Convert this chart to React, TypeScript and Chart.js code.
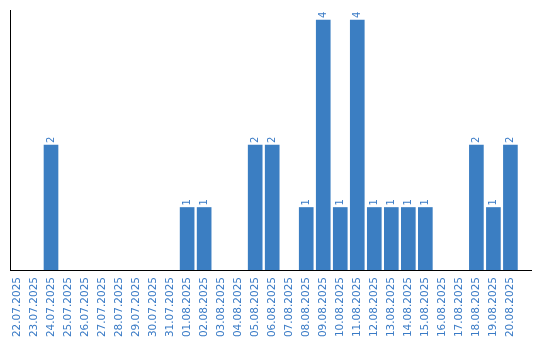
import React, { useEffect, useRef } from "react";
import { Chart, registerables } from "chart.js";

Chart.register(...registerables);

const dates = [
  "22.07.2025", "23.07.2025", "24.07.2025", "25.07.2025", "26.07.2025",
  "27.07.2025", "28.07.2025", "29.07.2025", "30.07.2025", "31.07.2025",
  "01.08.2025", "02.08.2025", "03.08.2025", "04.08.2025", "05.08.2025",
  "06.08.2025", "07.08.2025", "08.08.2025", "09.08.2025", "10.08.2025",
  "11.08.2025", "12.08.2025", "13.08.2025", "14.08.2025", "15.08.2025",
  "16.08.2025", "17.08.2025", "18.08.2025", "19.08.2025", "20.08.2025",
];
const counts = [
  0, 0, 2, 0, 0, 0, 0, 0, 0, 0,
  1, 1, 0, 0, 2, 2, 0, 1, 4, 1,
  4, 1, 1, 1, 1, 0, 0, 2, 1, 2,
];

const BAR = "#3b7ec2";
const TEXT = "#3a7bc6";
const FONT = "DejaVu Sans";

const valueLabels = {
  id: "valueLabels",
  afterDatasetsDraw(chart: any) {
    const ctx = chart.ctx;
    const meta = chart.getDatasetMeta(0);
    ctx.save();
    ctx.fillStyle = TEXT;
    ctx.font = `10px "${FONT}"`;
    ctx.textAlign = "left";
    ctx.textBaseline = "middle";
    meta.data.forEach((el: any, i: number) => {
      const v = counts[i];
      if (!v) return;
      ctx.save();
      ctx.translate(el.x, el.y - 2);
      ctx.rotate(-Math.PI / 2);
      ctx.fillText(String(v), 0, 0);
      ctx.restore();
    });
    ctx.restore();
  },
};

export default function App() {
  const ref = useRef<HTMLCanvasElement>(null);
  useEffect(() => {
    document.body.style.margin = "0";
    const chart = new Chart(ref.current!, {
      type: "bar",
      data: {
        datasets: [
          {
            data: counts.map((v, i) => ({ x: i, y: v === 0 ? null : v })),
            backgroundColor: BAR,
            barThickness: 14,
          },
        ],
      },
      options: {
        animation: false,
        responsive: false,
        maintainAspectRatio: false,
        layout: { padding: { left: 10, top: 10, right: 9, bottom: 0 } },
        plugins: { legend: { display: false }, tooltip: { enabled: false } },
        scales: {
          x: {
            type: "linear",
            offset: false,
            min: -0.41,
            max: 30.21,
            grid: { display: false, drawTicks: false },
            border: { display: true, color: "#000", width: 1 },
            afterBuildTicks: (scale: any) => {
              scale.ticks = dates.map((_, i) => ({ value: i }));
            },
            afterFit: (scale: any) => {
              scale.paddingLeft = 0;
              scale.paddingRight = 0;
              scale.height = 70;
            },
            ticks: {
              autoSkip: false,
              minRotation: 90,
              maxRotation: 90,
              padding: 7,
              color: TEXT,
              font: { family: FONT, size: 10.5 },
              callback: (v: any) => dates[v as number] ?? "",
            },
          },
          y: {
            min: 0,
            max: 4.16,
            grid: { display: false, drawTicks: false },
            border: { display: true, color: "#000", width: 1 },
            ticks: { display: false },
            afterFit: (scale: any) => {
              scale.width = 0;
            },
          },
        },
      },
      plugins: [valueLabels],
    });
    return () => chart.destroy();
  }, []);
  return (
    <div style={{ width: 540, height: 340 }}>
      <canvas ref={ref} width={540} height={340} />
    </div>
  );
}
